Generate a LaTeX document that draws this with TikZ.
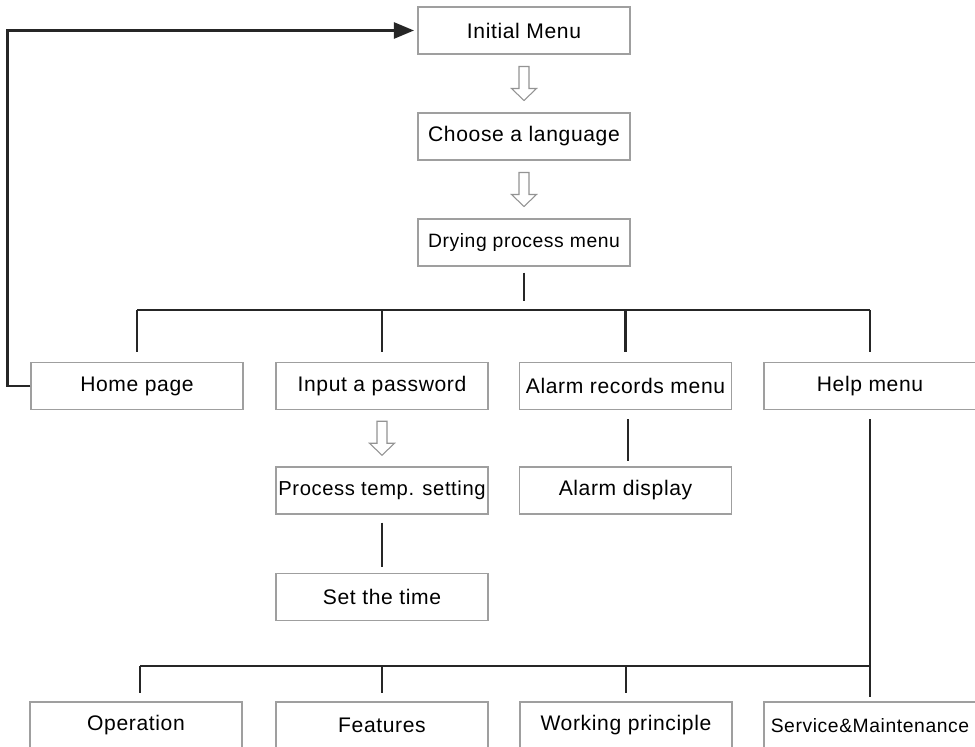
\documentclass[tikz,border=0pt]{standalone}
\usepackage{fontspec}
\setmainfont[LetterSpace=3]{Liberation Sans}
\usetikzlibrary{calc,arrows.meta}

\tikzset{
  menu/.style={draw=gray!75, line width=0.6pt, minimum width=4.24cm, minimum height=0.94cm,
    inner sep=0pt, font=\fontsize{12}{14}\selectfont},
  small/.style={font=\fontsize{11}{13}\selectfont},
  link/.style={line width=1.4pt, draw=black!85},
  hollow/.style={draw=gray!85, line width=0.6pt, fill=white},
}

\begin{document}
\begin{tikzpicture}[x=0.02cm,y=-0.02cm]
  \useasboundingbox (0,0) rectangle (975,747);

  % top column
  \node[menu] (init) at (524,30.5) {Initial Menu};
  \node[menu] (lang) at (524,136.5) {Choose a language};
  \node[menu,small] (dry) at (524,242.5) {Drying process menu};

  % second row
  \node[menu] (home) at (137,386) {Home page};
  \node[menu] (pass) at (382,386) {Input a password};
  \node[menu] (alarm) at (625.5,386) {Alarm records menu};
  \node[menu] (help) at (870,386) {Help menu};

  \node[menu,font=\fontsize{11.5}{13}\selectfont] (temp) at (382,490.5) {Process temp. setting};
  \node[menu] (time) at (382,597) {Set the time};
  \node[menu] (show) at (625.5,490.5) {Alarm display};

  % help row
  \node[menu] (op) at (136,725.5) {Operation};
  \node[menu] (feat) at (382,725.5) {Features};
  \node[menu] (work) at (626,725.5) {Working principle};
  \node[menu,small] (serv) at (870,725.5) {Service\&Maintenance};

  \coordinate (bus1) at (0,310);
  \coordinate (bus2) at (0,666);

  \foreach \a/\b in {init/lang, lang/dry, pass/temp} {
    \coordinate (m) at ($(\a.south)!0.5!(\b.north)$);
    \draw[hollow, shift={(m)}] (-5,-17) -- (5,-17) -- (5,5) -- (12.5,5) -- (0,17)
      -- (-12.5,5) -- (-5,5) -- cycle;
  }

  \draw[link] ($(dry.south)+(0,6)$) -- ++(0,28);
  \draw[link] (home.north |- bus1) -- (help.north |- bus1);
  \foreach \n in {home,pass,alarm,help}
    \draw[link] (\n.north |- bus1) -- ++(0,42);

  \draw[link,-{Triangle[length=4mm,width=3.2mm]},shorten >=2pt]
    (home.west) -- ++(-23,0) |- (init.west);

  \draw[link] ($(temp.south)+(0,8)$) -- ($(time.north)+(0,-6)$);
  \draw[link] ($(alarm.south)+(2.5,9)$) -- ($(show.north)+(2.5,-5)$);

  \draw[link] ($(help.south)+(0,9)$) -- ($(serv.north)+(0,-4)$);
  \draw[link] ($(op.north |- bus2)+(4,0)$) -- (help.south |- bus2);
  \draw[link] ($(op.north |- bus2)+(4,0)$) -- ++(0,27);
  \foreach \n in {feat,work}
    \draw[link] (\n.north |- bus2) -- ++(0,27);
\end{tikzpicture}
\end{document}
